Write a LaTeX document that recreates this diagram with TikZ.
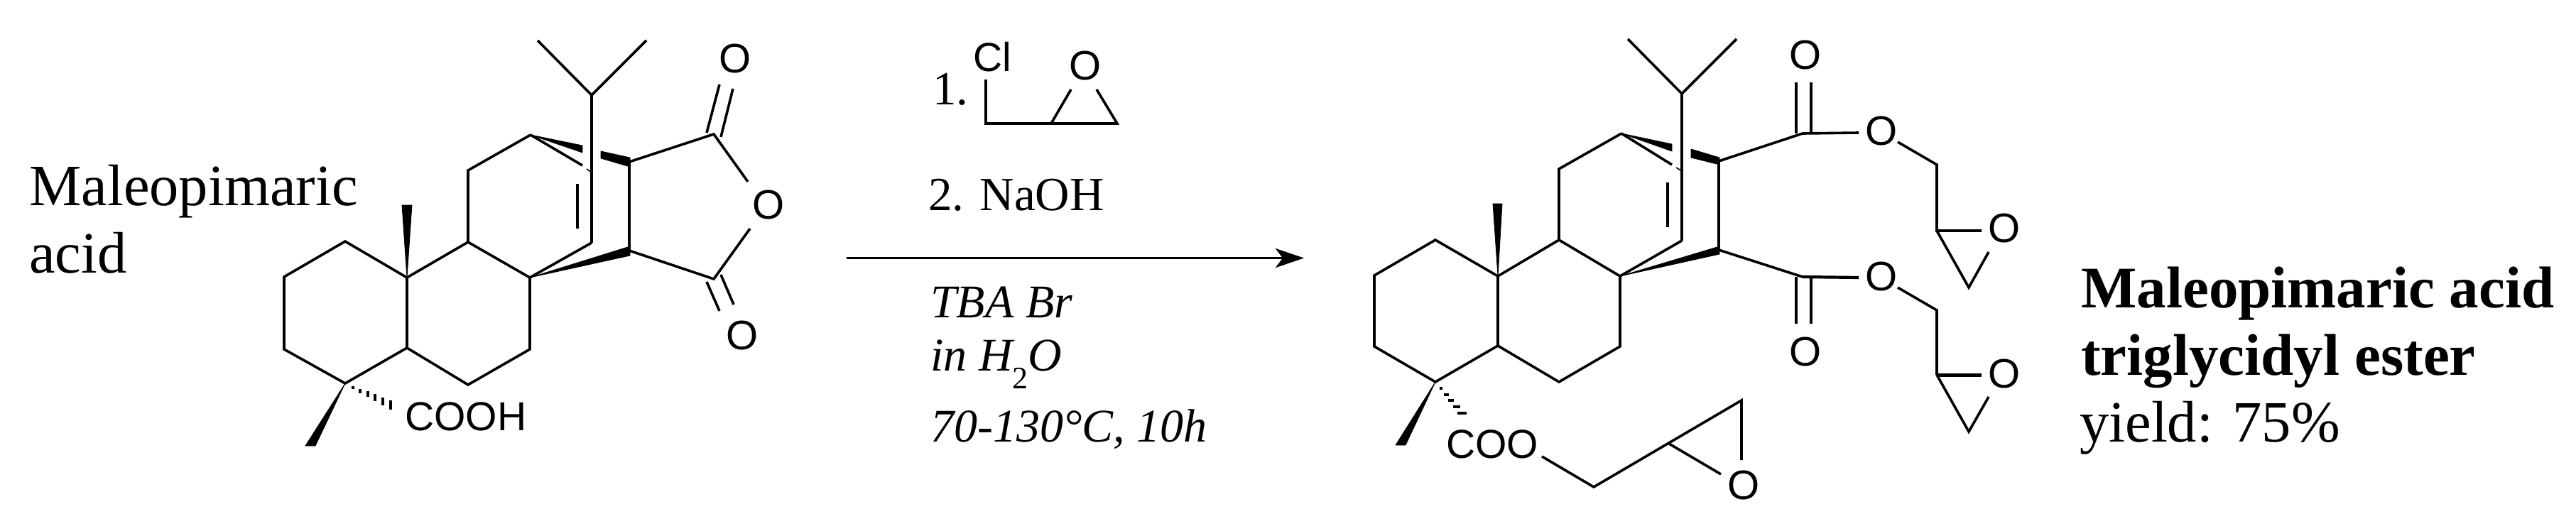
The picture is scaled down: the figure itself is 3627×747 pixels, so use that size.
\documentclass[tikz,border=0pt]{standalone}
\usepackage{fontspec}
\setmainfont{Liberation Serif}
\newfontfamily\arialf{Liberation Sans}
\usetikzlibrary{arrows.meta}
\tikzset{
  bond/.style={line width=3.6pt,line join=miter,black},
  thickbond/.style={line width=5pt,black},
  wedgefill/.style={fill=black,draw=black,line width=0.8pt,line join=round},
  atom/.style={inner sep=0pt,font=\arialf\fontsize{58}{58}\selectfont},
  atomw/.style={inner sep=0pt,anchor=base west,font=\arialf\fontsize{57}{57}\selectfont},
  label/.style={inner sep=0pt,anchor=base west},
  txt/.style={label,font=\fontsize{67}{67}\selectfont},
  ital/.style={label,font=\itshape\fontsize{66}{66}\selectfont},
  big/.style={label,font=\fontsize{82.5}{82.5}\selectfont},
  bigb/.style={label,font=\bfseries\fontsize{83}{83}\selectfont},
  hash/.style={line width=3.2pt,black},
  hashb/.style={line width=4pt,black},
  rxnarrow/.style={line width=3.8pt,black,-{Stealth[length=40pt,width=27pt,inset=10pt]}}
}
\begin{document}
\begin{tikzpicture}[x=1pt,y=-1pt]
\useasboundingbox (0,0) rectangle (3627,747);
\fill[white] (0,0) rectangle (3627,747);
%% ---------- left molecule ----------
\coordinate (aiL) at (757,57); \coordinate (aiR) at (910,57); \coordinate (aiC) at (833,134);
\coordinate (a1) at (486,340); \coordinate (a2) at (400,390); \coordinate (a3) at (400,492);
\coordinate (a4) at (486,540); \coordinate (a5) at (573,490); \coordinate (a10) at (573,391);
\coordinate (a9) at (659,341); \coordinate (a6) at (746,391); \coordinate (a7) at (746,492);
\coordinate (a8) at (659,542); \coordinate (a11) at (659,240); \coordinate (atop) at (747,190);
\coordinate (aalkT) at (833,243); \coordinate (aalkB) at (833,342);
\coordinate (ain1) at (813,259); \coordinate (ain2) at (813,322);
\coordinate (acU) at (886,228); \coordinate (acL) at (886,353);
\coordinate (acoU) at (1005,189); \coordinate (acoL) at (1005,393);
\node[atom] (aOU) at (1035,83) {O};
\node[atom] (aOR) at (1082,289) {O};
\node[atom] (aOL) at (1045,473) {O};
\node[atomw] (aCOOH) at (570,606) {COOH};
\coordinate (aOR1) at (1053,256); \coordinate (aOR2) at (1056,322);
\draw[bond] (aiL) -- (aiC) -- (aiR);
\draw[bond] (aiC) -- (aalkB);
\draw[bond] (ain1) -- (ain2);
\draw[bond] (a1) -- (a2) -- (a3) -- (a4) -- (a5) -- (a10) -- cycle;
\draw[bond] (a10) -- (a9) -- (a6) -- (a7) -- (a8) -- (a5);
\draw[bond] (a9) -- (a11) -- (atop);
\draw[bond] (a6) -- (aalkB);
\draw[bond] (atop) -- (820,233);
\draw[bond,line width=1.6pt] (826,238) -- (aalkT);
\draw[bond] (acU) -- (acL);
\draw[bond] (acU) -- (acoU) -- (aOR1);
\draw[bond] (aOR2) -- (acoL) -- (acL);
\draw[bond] (995,187) -- (1013,119);
\draw[bond] (1015,193) -- (1032,125);
\draw[bond] (995,397) -- (1013,438);
\draw[bond] (1015,387) -- (1033,429);
\fill[wedgefill] (atop) -- (820,205) -- (820,215) -- cycle;
\fill[wedgefill] (846,213) -- (887,222) -- (887,235) -- (846,223) -- cycle;
\fill[wedgefill] (a6) -- (887,347) -- (887,360) -- cycle;
\fill[wedgefill] (a10) -- (566,289) -- (580,289) -- cycle;
\fill[wedgefill] (a4) -- (430,628) -- (444,628) -- cycle;
\draw[hash] (497,544) -- (497,548);
\draw[hash] (507,548) -- (507,554);
\draw[hash] (518,551) -- (518,559);
\draw[hash] (528,555) -- (528,565);
\draw[hash] (539,560) -- (539,571);
\draw[hash] (550,564) -- (550,577);
\node[big] (aname1) at (41,289) {Maleopimaric};
\node[big] (aname2) at (41,384) {acid};
%% ---------- reagents ----------
\node[txt] (r1) at (1313,147) {1.};
\node[inner sep=0pt,anchor=base west,font=\arialf\fontsize{57}{57}\selectfont] (rCl) at (1370,100) {Cl};
\node[atom] (rO) at (1528,93) {O};
\coordinate (rc1) at (1388,112); \coordinate (rc2) at (1388,174);
\coordinate (rc3) at (1480,174); \coordinate (rc4) at (1573,174);
\coordinate (rO1) at (1508,126); \coordinate (rO2) at (1544,126);
\draw[bond] (rc1) -- (rc2) -- (rc4) -- (rO2);
\draw[bond] (rc3) -- (rO1);
\node[txt] (r2) at (1307,296) {2. NaOH};
\coordinate (arS) at (1192,363.5); \coordinate (arE) at (1836,363.5);
\draw[rxnarrow] (arS) -- (arE);
\node[ital] (c1) at (1310,447) {TBA Br};
\node[ital] (c2) at (1310,522) {in H\raisebox{-25pt}{\fontsize{44}{44}\selectfont\upshape 2}O};
\node[ital] (c3) at (1310,622) {70-130°C, 10h};
%% ---------- right molecule ----------
\coordinate (biL) at (2292,55); \coordinate (biR) at (2445,55); \coordinate (biC) at (2368,132);
\coordinate (b1) at (2021,338); \coordinate (b2) at (1935,388); \coordinate (b3) at (1935,488);
\coordinate (b4) at (2021,538); \coordinate (b5) at (2109,487); \coordinate (b10) at (2109,389);
\coordinate (b9) at (2195,338); \coordinate (b6) at (2281,389); \coordinate (b7) at (2281,488);
\coordinate (b8) at (2195,538); \coordinate (b11) at (2195,238); \coordinate (btop) at (2283,188);
\coordinate (balkB) at (2368,339); \coordinate (balkT) at (2368,241);
\coordinate (bin1) at (2348,257); \coordinate (bin2) at (2348,320);
\coordinate (bcU) at (2420,227); \coordinate (bcL) at (2420,352);
\coordinate (bcoU) at (2538,188); \coordinate (bcoL) at (2538,390);
\node[atom] (bOU) at (2542,78) {O};
\node[atom] (bOL) at (2542,496) {O};
\node[atom] (bE1) at (2649,185) {O};
\node[atom] (bE2) at (2649,390) {O};
\node[atom] (bX1) at (2822,322) {O};
\node[atom] (bX2) at (2822,527) {O};
\node[atom] (bX3) at (2455,684) {O};
\node[atomw] (bCOO) at (2036,645) {COO};
\draw[bond] (biL) -- (biC) -- (biR);
\draw[bond] (biC) -- (balkB);
\draw[bond] (bin1) -- (bin2);
\draw[bond] (b1) -- (b2) -- (b3) -- (b4) -- (b5) -- (b10) -- cycle;
\draw[bond] (b10) -- (b9) -- (b6) -- (b7) -- (b8) -- (b5);
\draw[bond] (b9) -- (b11) -- (btop);
\draw[bond] (b6) -- (balkB);
\draw[bond] (btop) -- (2354,232);
\draw[bond,line width=1.6pt] (2360,236) -- (balkT);
\draw[bond] (bcU) -- (bcL);
\draw[bond] (bcU) -- (bcoU);
\draw[bond] (bcL) -- (bcoL);
\draw[bond] (2529,116) -- (2529,188);
\draw[bond] (2550,116) -- (2550,186);
\draw[bond] (2529,390) -- (2529,456);
\draw[bond] (2550,390) -- (2550,456);
\coordinate (be1a) at (2617,187); \coordinate (be1b) at (2672,200); \coordinate (bch1) at (2727,232);
\coordinate (bep1) at (2727,325); \coordinate (bxO1) at (2790,325); \coordinate (bep1b) at (2772,405); \coordinate (bxO1b) at (2800,355);
\draw[bond] (bcoU) -- (be1a);
\draw[bond] (be1b) -- (bch1) -- (bep1) -- (bxO1);
\draw[bond] (bep1) -- (bep1b) -- (bxO1b);
\coordinate (be2a) at (2617,391); \coordinate (be2b) at (2672,405); \coordinate (bch2) at (2727,437);
\coordinate (bep2) at (2727,528); \coordinate (bxO2) at (2790,528); \coordinate (bep2b) at (2772,608); \coordinate (bxO2b) at (2800,559);
\draw[bond,line width=4.2pt] (bcoL) -- (be2a);
\draw[bond] (be2b) -- (bch2) -- (bep2);
\draw[thickbond] (bep2) -- (bxO2);
\draw[bond] (bep2) -- (bep2b) -- (bxO2b);
\coordinate (bc1) at (2171,643); \coordinate (bc2) at (2244,686); \coordinate (bc3) at (2350,625);
\coordinate (bc4) at (2452,564); \coordinate (bc5) at (2452,648); \coordinate (bc6) at (2423,668);
\draw[bond] (bc1) -- (bc2) -- (bc4) -- (bc5);
\draw[bond] (bc3) -- (bc6);
\fill[wedgefill] (btop) -- (2354,203) -- (2354,213) -- cycle;
\fill[wedgefill] (2381,210) -- (2421,222) -- (2421,232) -- (2381,222) -- cycle;
\fill[wedgefill] (b6) -- (2421,347) -- (2421,358) -- cycle;
\fill[wedgefill] (b10) -- (2102,287) -- (2115,287) -- cycle;
\fill[wedgefill] (b4) -- (1965,627) -- (1979,627) -- cycle;
\draw[hashb] (2027,547) -- (2031,547);
\draw[hashb] (2033,556) -- (2040,556);
\draw[hashb] (2039,564) -- (2047,564);
\draw[hashb] (2046,573) -- (2056,573);
\draw[hashb] (2052,582) -- (2065,582);
%% ---------- product label ----------
\node[bigb] (p1) at (2930,433) {Maleopimaric acid};
\node[bigb] (p2) at (2930,528) {triglycidyl ester};
\node[big] (p3) at (2928,622) {yield: 75\%};
\end{tikzpicture}
\end{document}
